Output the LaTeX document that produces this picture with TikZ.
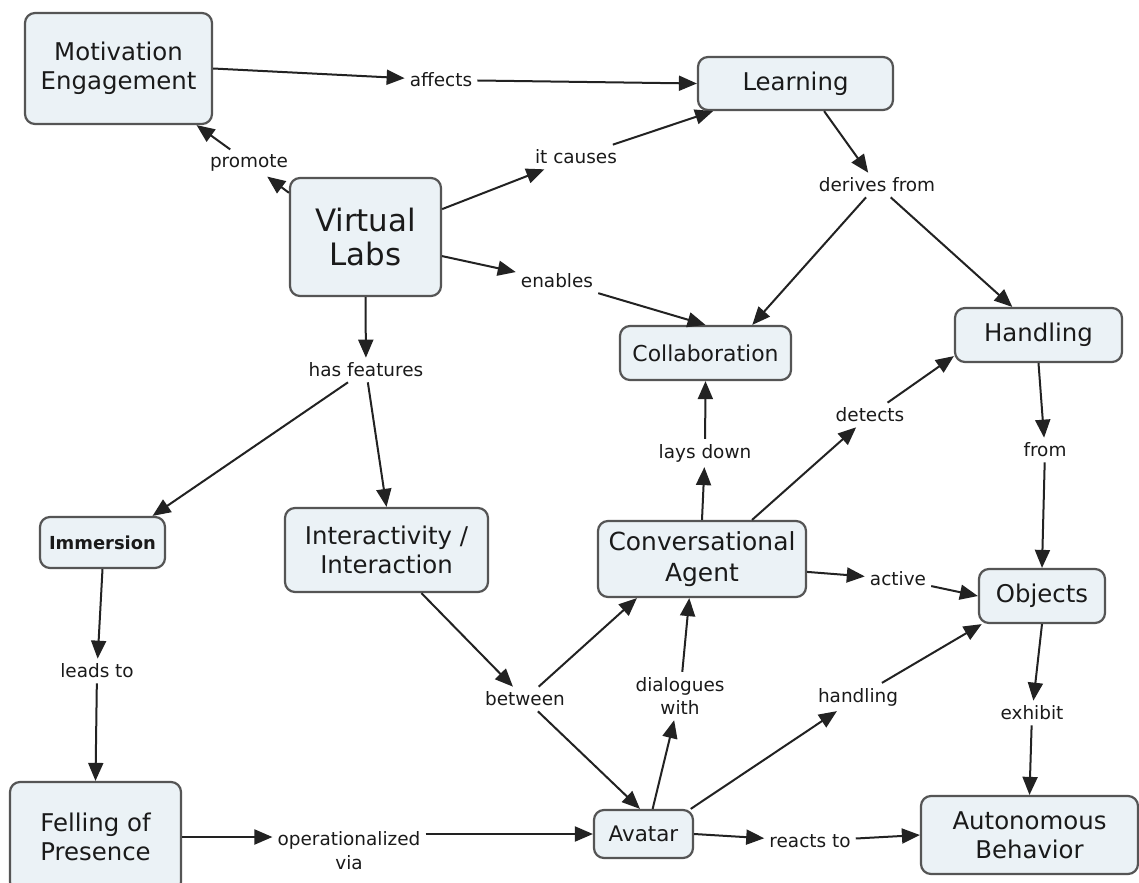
\documentclass[tikz,border=0pt]{standalone}
\usepackage{fontspec}
\setmainfont{DejaVu Sans}
\usepackage{xcolor}
\usetikzlibrary{arrows.meta}
\definecolor{conceptFillColor}{HTML}{EBF2F6}
\definecolor{conceptBorderColor}{HTML}{555555}
\definecolor{linkColor}{HTML}{222222}
\definecolor{labelTextColor}{HTML}{1A1A1A}
\def\textA{Motivation\\Engagement}
\def\textB{Learning}
\def\textC{Virtual\\Labs}
\def\textD{Collaboration}
\def\textE{Handling}
\def\textF{Immersion}
\def\textG{Interactivity /\\ Interaction}
\def\textH{Conversational\\Agent}
\def\textI{Objects}
\def\textJ{Felling of\\Presence}
\def\textK{Avatar}
\def\textL{Autonomous\\Behavior}
\tikzset{
conceptBox/.style={draw=conceptBorderColor, fill=conceptFillColor, line width=2.2bp,
rounded corners=10bp, align=center, inner sep=0pt, text=labelTextColor,
font=\fontsize{24.5}{29.5}\selectfont},
phraseLabel/.style={fill=white, inner sep=5bp, align=center, text=labelTextColor,
font=\fontsize{18.5}{24}\selectfont},
linkArrow/.style={draw=linkColor, line width=2bp, -{Triangle[length=18bp,width=15bp]}}
}

\begin{document}
\begin{tikzpicture}[x=1bp,y=-1bp]

% margin
\fill[white] (0, 0) rectangle (1139, 883);
\useasboundingbox (0, 0) rectangle (1139, 883);

% concept layer
\begin{scope}
\node[conceptBox, minimum width=187bp, minimum height=111bp] (motiv) at (118.5, 68.5) {\textA};
\node[conceptBox, minimum width=195bp, minimum height=53bp] (learn) at (795.5, 83.5) {\textB};
\node[conceptBox, minimum width=151bp, minimum height=118bp,
font=\fontsize{31}{35}\selectfont] (vlabs) at (365.5, 237) {\textC};
\node[conceptBox, minimum width=171bp, minimum height=54bp,
font=\fontsize{22}{26}\selectfont] (collab) at (705.5, 353) {\textD};
\node[conceptBox, minimum width=167bp, minimum height=54bp] (handl) at (1038.5, 335) {\textE};
\node[conceptBox, minimum width=125bp, minimum height=51bp,
font=\bfseries\fontsize{18}{21}\selectfont] (immer) at (102.5, 542.5) {\textF};
\node[conceptBox, minimum width=203bp, minimum height=84bp] (inter) at (386.5, 550) {\textG};
\node[conceptBox, minimum width=208bp, minimum height=76bp,
font=\fontsize{25}{31}\selectfont] (agent) at (702, 559) {\textH};
\node[conceptBox, minimum width=126bp, minimum height=54bp] (objec) at (1042, 596) {\textI};
\node[conceptBox, minimum width=171bp, minimum height=110bp] (presen) at (95.5, 837) {\textJ};
\node[conceptBox, minimum width=99bp, minimum height=48bp,
font=\fontsize{21.5}{26}\selectfont] (avatar) at (643.5, 834) {\textK};
\node[conceptBox, minimum width=217bp, minimum height=78bp] (auton) at (1029.5, 835) {\textL};
\end{scope}

% phrase layer
\begin{scope}
\node[phraseLabel] (affects) at (441, 80) {affects};
\node[phraseLabel] (promote) at (249, 163) {promote};
\node[phraseLabel] (causes) at (576, 157) {it causes};
\node[phraseLabel] (derives) at (877, 185) {derives from};
\node[phraseLabel] (enables) at (557, 281) {enables};
\node[phraseLabel] (features) at (366, 370) {has features};
\node[phraseLabel] (lays) at (705, 453) {lays down};
\node[phraseLabel] (detects) at (870, 415) {detects};
\node[phraseLabel] (from) at (1045, 450) {from};
\node[phraseLabel] (leads) at (97, 671) {leads to};
\node[phraseLabel] (between) at (525, 699) {between};
\node[phraseLabel] (dialog) at (680, 696) {dialogues\\with};
\node[phraseLabel] (handling) at (858, 697) {handling};
\node[phraseLabel] (active) at (898, 579) {active};
\node[phraseLabel] (exhibit) at (1032, 713) {exhibit};
\node[phraseLabel] (oper) at (349, 851) {operationalized\\via};
\node[phraseLabel] (reacts) at (810, 841) {reacts to};
\end{scope}

% link layer
\begin{scope}
\draw[linkArrow] (motiv.east) -- (affects);
\draw[linkArrow] (affects) -- (learn.west);
\draw[linkArrow] (vlabs.150) -- (promote);
\draw[linkArrow] (promote) -- (motiv);
\draw[linkArrow] (vlabs.20) -- (causes);
\draw[linkArrow] (causes) -- (learn);
\draw[linkArrow] (vlabs.-14) -- (enables);
\draw[linkArrow] (enables) -- (collab.north);
\draw[linkArrow] (learn.-44) -- (derives);
\draw[linkArrow] (derives) -- (collab.31);
\draw[linkArrow] (derives) -- (handl.133);
\draw[linkArrow] (vlabs.south) -- (features);
\draw[linkArrow] (features) -- (immer.28);
\draw[linkArrow] (features) -- (inter.north);
\draw[linkArrow] (immer.south) -- (leads);
\draw[linkArrow] (leads) -- (presen.north);
\draw[linkArrow] (inter.-51) -- (between);
\draw[linkArrow] (between) -- (agent.211);
\draw[linkArrow] (between) -- (avatar.98);
\draw[linkArrow] (presen.east) -- (presen.east -| oper.west);
\draw[linkArrow] (oper.east |- avatar.west) -- (avatar.west);
\draw[linkArrow] (avatar.70) -- (dialog);
\draw[linkArrow] (dialog) -- (agent.252);
\draw[linkArrow] (avatar.28) -- (handling);
\draw[linkArrow] (handling) -- (objec.205);
\draw[linkArrow] (avatar.east) -- (reacts);
\draw[linkArrow] (reacts) -- (auton.west);
\draw[linkArrow] (agent.north) -- (lays);
\draw[linkArrow] (lays) -- (collab.south);
\draw[linkArrow] (agent.38) -- (detects);
\draw[linkArrow] (detects) -- (handl.194);
\draw[linkArrow] (agent.-7) -- (active);
\draw[linkArrow] (active) -- (objec.west);
\draw[linkArrow] (handl.south) -- (from);
\draw[linkArrow] (from) -- (objec.north);
\draw[linkArrow] (objec.south) -- (exhibit);
\draw[linkArrow] (exhibit) -- (auton.north);
\end{scope}

\end{tikzpicture}
\end{document}
